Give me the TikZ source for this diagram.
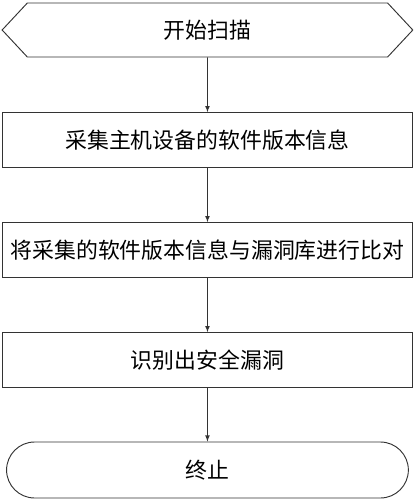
\documentclass[tikz,border=0pt]{standalone}
\usepackage{fontspec}
\setmainfont{Noto Sans CJK SC}
\usetikzlibrary{shapes.symbols,shapes.misc}

\tikzstyle{block} = [draw, rectangle, line width=0.7pt, draw=black!80,
    minimum height=41pt, minimum width=307pt]
\tikzstyle{startblock} = [draw, signal, signal to=west and east,
    signal pointer angle=94, line width=0.7pt, draw=black!80,
    minimum height=40.5pt, minimum width=308pt]
\tikzstyle{stopblock} = [draw, rounded rectangle, line width=0.7pt, draw=black!80,
    minimum height=42pt, minimum width=308pt]

\begin{document}
\begin{tikzpicture}[auto, node distance=82.5pt, >=latex,
    font=\fontsize{16.4}{19}\selectfont]
    % page size of the reference
    \useasboundingbox (0,0) rectangle (312pt,-375pt);
    % We start by placing the blocks
    \node [startblock] (start) at (155.6pt,-22.5pt) {开始扫描};
    \node [block, below of=start] (collect) {采集主机设备的软件版本信息};
    \node [block, below of=collect] (compare) {将采集的软件版本信息与漏洞库进行比对};
    \node [block, below of=compare] (identify) {识别出安全漏洞};
    \node [stopblock, below of=identify] (stop) {终止};

    \draw [->, black!80, line width=0.6pt] (start) -- (collect);
    \draw [->, black!80, line width=0.6pt] (collect) -- (compare);
    \draw [->, black!80, line width=0.6pt] (compare) -- (identify);
    \draw [->, black!80, line width=0.6pt] (identify) -- (stop);
\end{tikzpicture}
\end{document}
